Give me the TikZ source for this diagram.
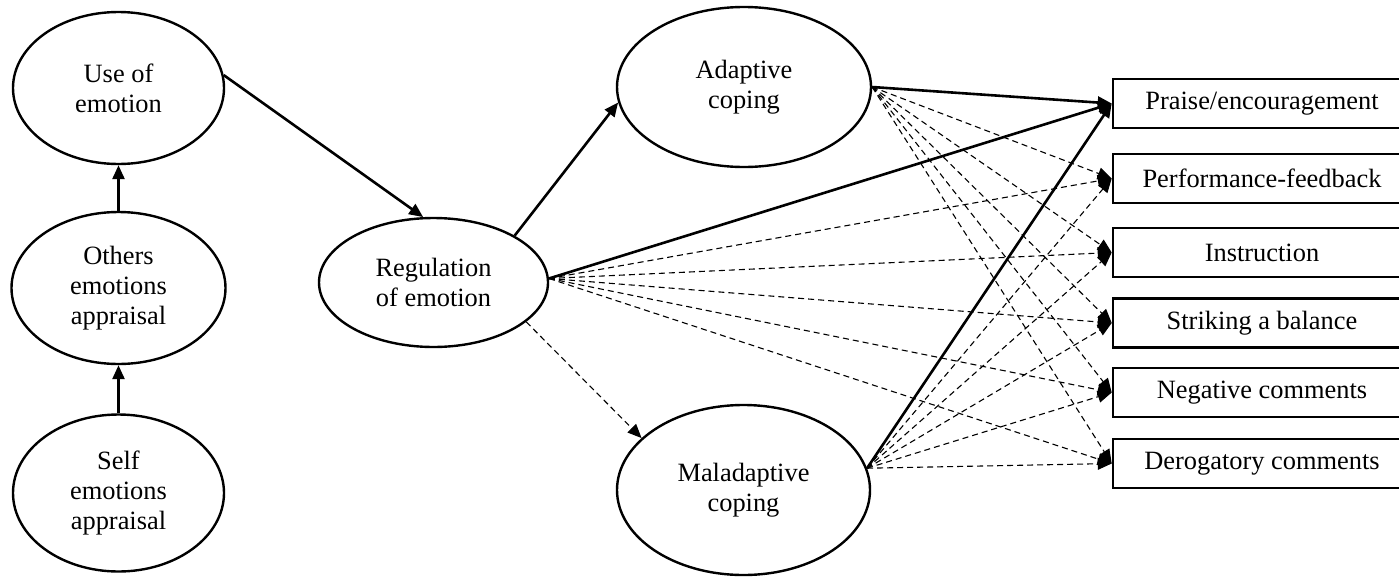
\documentclass[tikz,border=0pt]{standalone}
\usepackage{fontspec}
\setmainfont{Liberation Serif}
\usetikzlibrary{shapes.geometric,arrows.meta}
\begin{document}
\begin{tikzpicture}[x=1pt,y=-1pt,
  txt/.style={font=\fontsize{26.4}{30}\selectfont},
  oval/.style={ellipse, draw, line width=2.4pt, inner sep=0pt, align=center, txt},
  box/.style={rectangle, draw, line width=2.6pt, minimum width=298pt, minimum height=49pt, inner sep=0pt, txt},
  solidarr/.style={line width=2.6pt, -{Triangle[length=14pt,width=12pt]}},
  dasharr/.style={line width=1.1pt, dash pattern=on 6pt off 4pt, -{Triangle[length=14pt,width=12pt]}}
]
\useasboundingbox (0,0) rectangle (1399,576);
\fill[white] (0,0) rectangle (1399,576);

\node[oval, minimum width=211pt, minimum height=152pt] (use) at (118.5,88) {Use of\\emotion};
\node[oval, minimum width=214pt, minimum height=152pt] (oth) at (118.5,288) {Others\\emotions\\appraisal};
\node[oval, minimum width=211pt, minimum height=157pt] (self) at (118.5,493) {Self\\emotions\\appraisal};
\node[oval, minimum width=229pt, minimum height=129pt] (reg) at (433.5,282.5) {Regulation\\of emotion};
\node[oval, minimum width=254pt, minimum height=160pt] (adap) at (744,87) {Adaptive\\coping};
\node[oval, minimum width=253pt, minimum height=170pt] (mal) at (743.5,490) {Maladaptive\\coping};

\node[box] (b1) at (1262,103.5) {Praise/encouragement};
\node[box] (b2) at (1262,178.5) {Performance-feedback};
\node[box] (b3) at (1262,252.5) {Instruction};
\node[box] (b4) at (1262,323) {Striking a balance};
\node[box] (b5) at (1262,392.5) {Negative comments};
\node[box] (b6) at (1262,463.5) {Derogatory comments};

\draw[solidarr] (self.north) -- (oth.south);
\draw[solidarr] (oth.north) -- (use.south);
\draw[solidarr] (use.7) -- (reg.99);
\draw[solidarr] (reg.30) -- (adap.187);
\draw[dasharr] (reg.-23) -- (mal.153);

\foreach \b in {b2,b3,b4,b5,b6}{
  \draw[dasharr] (adap.east) -- (\b.west);
  \draw[dasharr] (reg.2) -- (\b.west);
  \draw[dasharr] (mal.10) -- (\b.west);
}
\draw[solidarr] (adap.east) -- (b1.west);
\draw[solidarr] (reg.2) -- (b1.west);
\draw[solidarr] (mal.10) -- (b1.west);
\end{tikzpicture}
\end{document}
